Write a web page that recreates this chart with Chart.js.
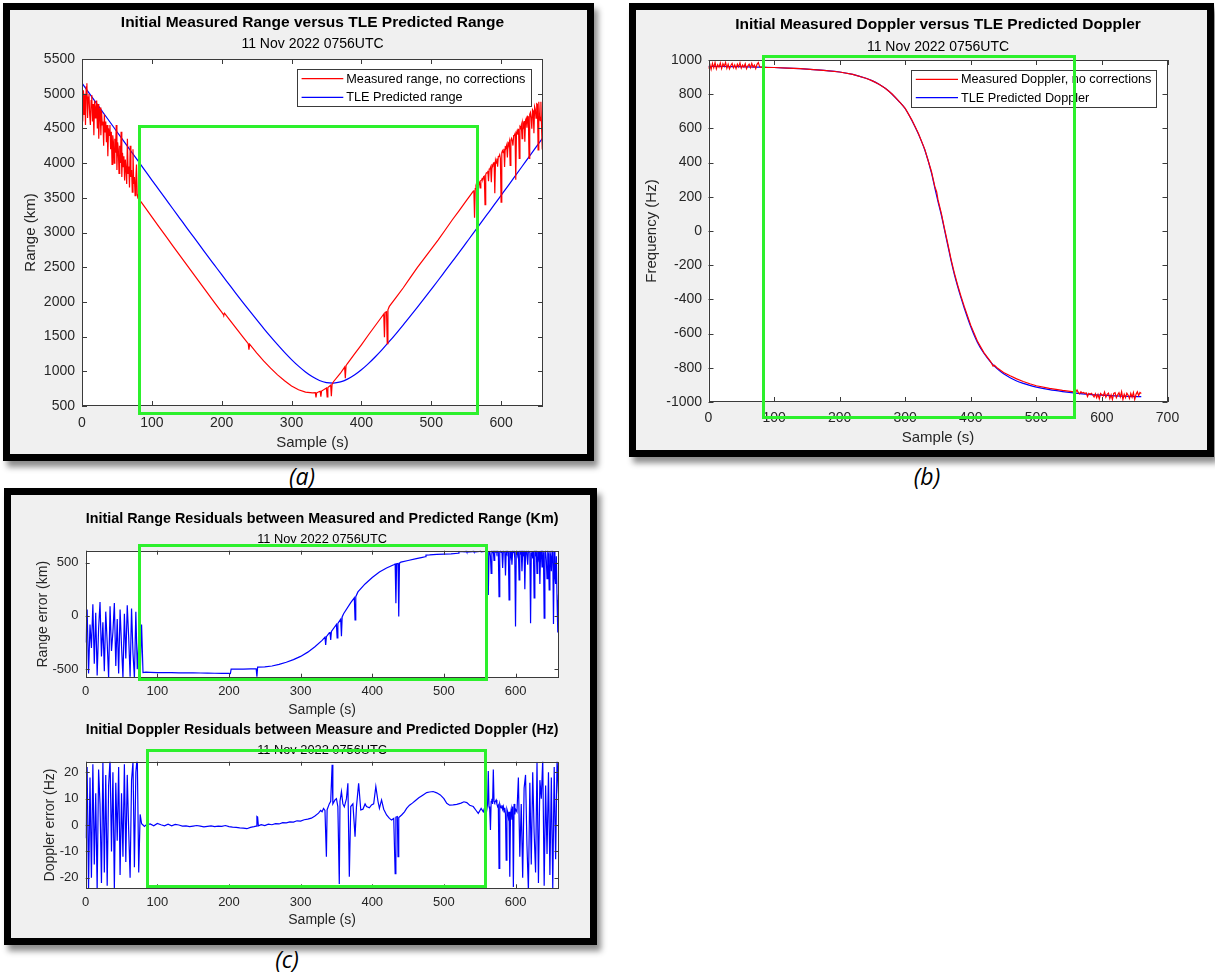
<!DOCTYPE html>
<html>
<head>
<meta charset="utf-8">
<script src="https://cdn.jsdelivr.net/npm/chart.js@4.4.1/dist/chart.umd.min.js"></script>
<style>
  html,body{margin:0;padding:0;background:#fff;}
  body{width:1215px;height:975px;position:relative;overflow:hidden;font-family:'Liberation Sans',Arial,sans-serif;}
  .panel{position:absolute;box-sizing:border-box;border:7px solid #000;background:#f0f0f0;box-shadow:4px 6px 6px rgba(0,0,0,0.45);}
  canvas{position:absolute;}
  .green{position:absolute;box-sizing:border-box;border:3px solid #2cf02c;z-index:10;pointer-events:none;}
  .lbl{position:absolute;font-family:'Open Sans','Liberation Sans',sans-serif;font-style:italic;font-size:23px;color:#000;transform:translate(-50%,-50%);white-space:nowrap;}
</style>
</head>
<body>
<div class="panel" style="left:3px;top:3px;width:591px;height:458px"></div>
<div class="panel" style="left:629px;top:3px;width:585px;height:454px"></div>
<div class="panel" style="left:4px;top:488px;width:593px;height:457px"></div>

<canvas id="cA" width="577" height="445" style="left:10px;top:10px"></canvas>
<canvas id="cB" width="571" height="441" style="left:636px;top:10px"></canvas>
<canvas id="cC1" width="579" height="235" style="left:11px;top:495px"></canvas>
<canvas id="cC2" width="579" height="220" style="left:11px;top:718px"></canvas>

<div class="green" style="left:138px;top:125px;width:341px;height:290px"></div>
<div class="green" style="left:762px;top:55px;width:314px;height:364px"></div>
<div class="green" style="left:138px;top:544px;width:350px;height:137px"></div>
<div class="green" style="left:146px;top:749px;width:341px;height:139px"></div>

<div class="lbl" style="left:302px;top:476px">(a)</div>
<div class="lbl" style="left:927px;top:476px">(b)</div>
<div class="lbl" style="left:287px;top:959px">(c)</div>

<script>
// ---------------- DATA ----------------
// (a) Range: TLE predicted (every 10 s, 0..660)
const predRangeT = [0,10,20,30,40,50,60,70,80,90,100,110,120,130,140,150,160,170,180,190,200,210,220,230,240,250,260,270,280,290,300,310,320,330,340,350,360,370,380,390,400,410,420,430,440,450,460,470,480,490,500,510,520,530,540,550,560,570,580,590,600,610,620,630,640,650,660];
const predRange = [5151,5011,4871,4732,4592,4452,4313,4174,4035,3896,
 3756,3618,3480,3342,3205,3068,2932,2796,2660,2526,
 2392,2260,2128,1998,1870,1744,1620,1500,1384,1273,
 1169,1074,990,920,868,838,831,847,887,946,
 1022,1111,1210,1317,1430,1548,1669,1794,1921,2050,
 2181,2312,2446,2580,2714,2850,2986,3123,3260,3397,
 3535,3673,3812,3951,4090,4229,4368];
// (a) Measured range: samples 0..82 s (1 s apart)
const measRangeEarly = [4900,4600,5050,4700,5000,4550,5100,5150,4650,4950,
 5000,4700,4550,4900,4980,4600,4850,4400,4900,4650,
 4800,4900,4500,4850,4350,4700,4800,4400,4750,4550,
 4600,4250,4700,4450,4600,4300,4550,4100,4500,4400,
 4550,4200,4450,3980,4400,4300,4000,4350,4150,4550,
 3900,4300,4200,3850,4250,4000,4450,3800,4150,3950,
 4100,3750,4050,3900,3700,4350,3850,3950,3650,4250,
 3800,3900,3580,4200,3700,3800,3530,3750,3980,3550,
 3495,3496,3475];
// (a) Measured range: middle of pass
const measRangeMidT = [84,90,100,110,120,130,140,150,160,170,180,190,200,202,203,204,210,220,230,238,239,240,250,260,270,280,290,300,310,320,330,334,335,336,340,341,342,343,350,351,352,356,357,358,360,370,376,377,378,380,390,400,410,420,430,432,433,434,436,437,438,440,450,460,470,480,490,500,510,520,530,540,550,560];
const measRangeMid = [3449,3366,3224,3086,2947,2808,2670,2533,2396,2259,2122,1987,1852,1825,1812,1838,1760,1629,1500,1398,1313,1390,1266,1150,1045,949,863,789,734,700,690,694,622,690,708,712,635,716,758,630,766,800,640,812,850,972,1060,900,1080,1112,1246,1382,1523,1660,1797,1825,1490,1850,1860,1400,1885,1935,2068,2204,2349,2493,2628,2761,2894,3036,3180,3316,3455,3594];
// (a) Measured range: samples 561..660 s
const measRangeLate = [3608,3211,3632,3651,3615,3469,3695,3694,3720,3644,
 3750,3752,3777,3769,3805,3812,3402,3834,3860,3857,
 3888,3740,3915,3917,3943,3725,3971,3962,3998,4005,
 3564,4040,4001,4067,3949,4095,4097,4122,4064,3438,
 4152,4178,4149,4205,3945,4233,4225,4260,4082,4288,
 4270,4316,3967,4331,4357,4319,4253,4398,4400,4426,
 3759,4432,4467,4409,4495,4067,4523,4504,4550,4352,
 4578,4530,4605,4307,4621,4647,4509,4674,4666,4068,
 4704,4730,4651,4495,4771,4753,4431,4812,4774,4648,
 4854,4846,4192,4883,4677,4611,4885,4488,4197,4566];

// (b) Doppler
const predDopT = [0,20,40,60,80,100,120,140,160,180,200,220,240,250,260,270,280,290,300,310,320,330,340,345,350,355,360,365,370,375,380,385,390,400,410,420,430,440,450,460,470,480,490,500,520,540,560,580,600,620,640,660];
const predDop = [962,962,961,960,958,956,953,949,944,938,930,916,893,878,858,833,800,760,715,648,568,472,340,255,172,95,5,-85,-175,-255,-325,-390,-450,-560,-650,-715,-765,-805,-835,-858,-877,-891,-903,-913,-928,-939,-948,-955,-960,-964,-967,-969];
const measDopEarly = [950,975,945,980,955,985,948,972,958,982,950,978,962,985,952,975,948,968,980,955,972,950,976,960,983,952,970,958,978,949,966,975,955,980,958,970,950,975,985,960,958]; // 0..80 s, every 2 s
const measDopMidT = [82,90,100,120,140,160,180,200,220,240,250,260,270,280,290,300,310,320,330,340,345,346,348,350,355,360,365,370,375,380,385,390,400,410,420,430,434,436,440,450,460,470,480,490,500,520,540,560];
const measDopMid = [958,956,956,953,949,944,938,930,916,893,878,858,833,801,761,717,650,571,476,348,262,250,228,182,104,12,-76,-167,-246,-316,-381,-441,-552,-643,-711,-762,-790,-785,-800,-827,-847,-865,-880,-893,-905,-920,-932,-942];
const measDopLate = [-930,-945,-952,-940,-948,-944,-950,-946,-968,-950,-955,-949,-958,-970,-952,-975,-955,-982,-950,-958,-965,-942,-972,-955,-948,-980,-958,-985,-950,-945,-975,-958,-946,-970,-940,-985,-955,-975,-948,-960,-980,-950,-972,-945,-985,-955,-940,-962,-944,-950]; // 562..660 s, every 2 s

// (c) Range residuals (km)
const rangeErrEarly = [-250,60,-540,-80,-300,110,-450,30,-560,-120,
 130,-380,-60,-520,40,-250,-580,90,-330,-150,
 120,-470,-30,-540,60,-280,-580,20,-400,100,
 -200,-570,70,-350,-580,40,-500,-230,-570,-80,
 -532,-530]; // 0..82 s, every 2 s
const rangeErrMidT = [84,90,100,110,120,130,140,150,160,170,180,190,200,202,203,210,220,230,238,239,240,250,260,270,280,290,300,310,320,330,334,335,336,340,341,342,343,350,351,352,356,357,358,360,370,375,376,377,380,390,400,410,420,430,432,433,434,436,437,438,440,450,460,470,474,475,480,490,500,510,520,521,530,531,532,540,541,542,550,551,552,560];
const rangeErrMid = [-528,-530,-532,-532,-533,-534,-535,-535,-536,-537,-538,-539,-540,-541,-500,-500,-499,-498,-497,-570,-480,-478,-470,-455,-435,-410,-380,-340,-290,-230,-200,-272,-195,-160,-152,-225,-145,-80,-206,-70,-30,-190,-10,20,125,170,-37,180,225,300,360,412,450,480,487,119,490,492,-6,495,505,520,535,550,555,570,572,578,580,582,588,605,600,612,598,602,612,600,605,612,602,608];
const rangeErrLate = [608,197,605,610,560,400,612,598,610,520,
 612,600,612,590,612,605,181,600,612,595,
 612,450,612,600,612,380,612,590,612,605,
 150,612,560,612,480,612,600,612,540,-100,
 600,612,570,612,338,612,590,612,420,612,
 580,612,250,600,612,560,480,612,600,612,
 -69,590,612,540,612,170,612,580,612,400,
 612,550,612,300,600,612,460,612,590,-22,
 600,612,520,350,612,580,244,612,560,420,
 612,590,-77,600,380,300,560,150,-155,200]; // 561..660 s

// (c) Doppler residuals (Hz)
const dopErrEarly = [-5,22,-24,18,-20,23,-15,12,-25,21,
 8,-22,24,-18,19,-23,15,25,-10,20,
 -24,16,-6,22,-19,12,-12,23,-14,19,
 -2,-20,17,24,-16,20,26,-18,4,0.5,
 0,-0.5,0]; // 0..84 s, every 2 s
const dopErrMidT = [85,90,95,100,105,110,115,120,125,130,135,140,145,150,155,160,165,170,175,180,185,190,195,200,205,210,215,220,225,230,235,238,239,240,241,245,250,255,260,265,270,275,280,285,290,295,300,305,310,315,320,325,328,330,332,334,336,337,340,342,344,345,348,350,352,354,355,357,359,361,364,366,368,370,373,376,378,381,384,387,390,392,396,399,402,405,408,410,413,416,420,424,427,430,432,433,435,436,437,441,445,448,452,456,460,465,471,476,480,485,490,495,500,504,508,513,518,524,528,532,536,541,545,548,552,555,558,560];
const dopErrMid = [0,0.4,-0.3,0.6,0.1,-0.3,0.3,-0.3,0.2,0,-0.4,-0.3,-0.6,-0.4,-0.2,-0.4,-0.7,-0.5,-0.3,-0.6,-0.4,-0.5,-0.2,-0.6,-0.8,-0.9,-1.1,-1.2,-1.4,-0.9,-0.6,-0.4,3.2,3.0,-0.3,0.1,-0.2,0.3,0.1,0.5,0.4,0.9,0.8,1.2,1.1,1.6,1.5,2.0,2.2,2.6,3.4,4.5,5.5,5.0,6.3,5.5,-12,5.8,8,9,22.8,8,9.5,10,7,-22.4,9,12.7,8,6.9,10,15.8,-19.6,7,8,-4.4,7,15.8,5.7,6,8,7,6.5,7.6,8,14.6,9,6.3,9.5,6,3.8,2.5,1.9,2.5,-18.4,3,3.2,-12,2.8,3.8,5,6.3,7.5,8.3,9.2,10.3,11.4,12.3,12.5,12.7,12.2,11.4,10,8.2,7.5,7.6,7.8,8.3,8.8,8.5,7.5,7,5.5,4.4,6.3,5,7.6,6];
const dopErrLateA = [8,20.5,7,6,-1.9,9,10,8,21,9,
 8.5,9,9.5,8,7,7.5,-16.5,8,7,6.5,
 7.5,6,7,5,6.5,4,-13.3,6,5,3,
 5,-19.6,4,6,2,7,-23.5,8,4,6]; // 561..600 s
const dopErrLateB = [5,18,-12,8,-20,14,19,-8,-25,16,
 -15,20,-3,-18,24,-22,17,10,25,-23,
 15,-11,20,-19,18,-24,22,-13,25,12]; // 602..660 s, every 2 s

// Tick labels
const xTicksA = [0,100,200,300,400,500,600];
const yTicksA = [500,1000,1500,2000,2500,3000,3500,4000,4500,5000,5500];
const xTicksB = [0,100,200,300,400,500,600,700];
const yTicksB = [-1000,-800,-600,-400,-200,0,200,400,600,800,1000];
const xTicksC = [0,100,200,300,400,500,600];
const yTicksC1 = [-500,0,500];
const yTicksC2 = [-20,-10,0,10,20];

// ---------------- HELPERS ----------------
const FONT = "'Liberation Sans', Arial, Helvetica, sans-serif";
const TXT = '#262626';
const pairs = (t, v) => t.map((x, i) => ({x: x, y: v[i]}));
const series = (start, step, v) => v.map((y, i) => ({x: start + i * step, y: y}));

const boxFrame = {
  id: 'boxFrame',
  beforeDatasetsDraw(chart) {
    const {ctx, chartArea: a} = chart;
    ctx.save();
    ctx.fillStyle = '#ffffff';
    ctx.fillRect(a.left, a.top, a.right - a.left, a.bottom - a.top);
    ctx.restore();
  },
  afterDatasetsDraw(chart, args, o) {
    const {ctx, chartArea: a, scales} = chart;
    const L = o.len || 5;
    ctx.save();
    ctx.strokeStyle = '#3a3a3a';
    ctx.lineWidth = 1;
    ctx.beginPath();
    scales.x.ticks.forEach(t => {
      const p = Math.round(scales.x.getPixelForValue(t.value)) + 0.5;
      ctx.moveTo(p, a.bottom); ctx.lineTo(p, a.bottom - L);
      ctx.moveTo(p, a.top); ctx.lineTo(p, a.top + L);
    });
    scales.y.ticks.forEach(t => {
      const p = Math.round(scales.y.getPixelForValue(t.value)) + 0.5;
      ctx.moveTo(a.left, p); ctx.lineTo(a.left + L, p);
      ctx.moveTo(a.right, p); ctx.lineTo(a.right - L, p);
    });
    ctx.stroke();
    ctx.strokeRect(Math.round(a.left) + 0.5, Math.round(a.top) + 0.5, Math.round(a.right - a.left) - 1, Math.round(a.bottom - a.top) - 1);
    ctx.restore();
  }
};

const innerLegend = {
  id: 'innerLegend',
  afterDraw(chart, args, o) {
    if (!o || !o.w) return;
    const ctx = chart.ctx;
    ctx.save();
    ctx.fillStyle = '#ffffff';
    ctx.fillRect(o.x, o.y, o.w, o.h);
    ctx.strokeStyle = '#3a3a3a';
    ctx.lineWidth = 1;
    ctx.strokeRect(o.x + 0.5, o.y + 0.5, o.w, o.h);
    ctx.font = o.size + 'px ' + FONT;
    ctx.textBaseline = 'middle';
    chart.data.datasets.forEach((d, i) => {
      const yy = o.rows[i];
      ctx.strokeStyle = d.borderColor;
      ctx.lineWidth = 1.2;
      ctx.beginPath(); ctx.moveTo(o.x1, yy); ctx.lineTo(o.x2, yy); ctx.stroke();
      ctx.fillStyle = '#000';
      ctx.fillText(d.label, o.tx, yy + 0.5);
    });
    ctx.restore();
  }
};

function makeChart(id, c) {
  return new Chart(document.getElementById(id), {
    type: 'line',
    data: {
      datasets: c.datasets.map(d => ({
        label: d.label, data: d.data, borderColor: d.color, backgroundColor: d.color,
        borderWidth: 1.2, pointRadius: 0, fill: false, clip: 0,
        tension: 0, cubicInterpolationMode: d.smooth ? 'monotone' : 'default'
      }))
    },
    options: {
      responsive: false, animation: false, events: [],
      layout: {padding: {left: 0, right: c.padRight, top: 0, bottom: 0}},
      plugins: {
        legend: {display: false}, tooltip: {enabled: false},
        title: {display: true, text: c.title, fullSize: false, color: '#000',
          font: {family: FONT, size: c.titleSize, weight: 'bold', lineHeight: 1.2},
          padding: {top: c.tp, bottom: 0}},
        subtitle: {display: true, text: '11 Nov 2022 0756UTC', fullSize: false, color: '#000',
          font: {family: FONT, size: c.subSize, lineHeight: 1.2},
          padding: {top: c.sp, bottom: c.spb}},
        boxFrame: {len: c.tickLen},
        innerLegend: c.legend || {}
      },
      scales: {
        x: {
          type: 'linear', min: c.xMin, max: c.xMax,
          afterFit(s) { s.height = c.xH; },
          afterBuildTicks(s) { s.ticks = c.xTicks.map(v => ({value: v})); },
          grid: {display: false, drawTicks: false}, border: {display: false},
          ticks: {color: TXT, font: {family: FONT, size: c.tickSize, lineHeight: 1.2}, padding: c.xtp, maxRotation: 0, autoSkip: false,
                  callback: v => String(v)},
          title: {display: true, text: 'Sample (s)', color: TXT, font: {family: FONT, size: c.labSize, lineHeight: 1.2}, padding: {top: 0, bottom: c.xlp}}
        },
        y: {
          type: 'linear', min: c.yMin, max: c.yMax,
          afterFit(s) { s.width = c.yW; },
          afterBuildTicks(s) { s.ticks = c.yTicks.map(v => ({value: v})); },
          grid: {display: false, drawTicks: false}, border: {display: false},
          ticks: {color: TXT, font: {family: FONT, size: c.tickSize, lineHeight: 1.2}, padding: c.ytp, autoSkip: false,
                  callback: v => String(v)},
          title: {display: true, text: c.yLabel, color: TXT, font: {family: FONT, size: c.labSize, lineHeight: 1.2}, padding: {top: c.ylp, bottom: 0}}
        }
      }
    },
    plugins: [boxFrame, innerLegend]
  });
}

// ---------------- CHARTS ----------------
makeChart('cA', {
  datasets: [
    {label: 'Measured range, no corrections', color: '#ff0000',
     data: series(0, 1, measRangeEarly).concat(pairs(measRangeMidT, measRangeMid), series(561, 1, measRangeLate))},
    {label: 'TLE Predicted range', color: '#0000ff', smooth: true, data: pairs(predRangeT, predRange)}
  ],
  title: 'Initial Measured Range versus TLE Predicted Range', titleSize: 15.5, subSize: 14,
  tp: 3.7, sp: 3.3, spb: 6.6, padRight: 44, yW: 72, xH: 49,
  xMin: 0, xMax: 660, yMin: 500, yMax: 5500, xTicks: xTicksA, yTicks: yTicksA,
  tickSize: 14, labSize: 15, xtp: 8.3, ytp: 7, xlp: 3, ylp: 11.6, yLabel: 'Range (km)', tickLen: 5,
  legend: {x: 287, y: 59, w: 234, h: 37, x1: 291.6, x2: 333.3, rows: [68.7, 87.3], tx: 336.3, size: 12.7}
});

makeChart('cB', {
  datasets: [
    {label: 'Measured Doppler, no corrections', color: '#ff0000',
     data: series(0, 2, measDopEarly).concat(pairs(measDopMidT, measDopMid), series(562, 2, measDopLate))},
    {label: 'TLE Predicted Doppler', color: '#0000ff', smooth: true, data: pairs(predDopT, predDop)}
  ],
  title: 'Initial Measured Doppler versus TLE Predicted Doppler', titleSize: 15.5, subSize: 14,
  tp: 5.7, sp: 4, spb: 4.9, padRight: 39.5, yW: 72.5, xH: 49,
  xMin: 0, xMax: 700, yMin: -1000, yMax: 1000, xTicks: xTicksB, yTicks: yTicksB,
  tickSize: 14, labSize: 15, xtp: 7.3, ytp: 6.4, xlp: 4, ylp: 7, yLabel: 'Frequency (Hz)', tickLen: 5,
  legend: {x: 275, y: 60, w: 245, h: 37, x1: 279.8, x2: 322, rows: [69.3, 87.7], tx: 325, size: 12.7}
});

makeChart('cC1', {
  datasets: [
    {label: 'Range residual', color: '#0000ff',
     data: series(0, 2, rangeErrEarly).concat(pairs(rangeErrMidT, rangeErrMid), series(561, 1, rangeErrLate))}
  ],
  title: 'Initial Range Residuals between Measured and Predicted Range (Km)', titleSize: 14.4, subSize: 12.8,
  tp: 15.36, sp: 3.67, spb: 4.03, padRight: 31.5, yW: 74.7, xH: 52.3,
  xMin: 0, xMax: 660, yMin: -580, yMax: 612, xTicks: xTicksC, yTicks: yTicksC1,
  tickSize: 13, labSize: 14, xtp: 6.2, ytp: 7.2, xlp: 11.6, ylp: 23.5, yLabel: 'Range error (km)', tickLen: 4
});

makeChart('cC2', {
  datasets: [
    {label: 'Doppler residual', color: '#0000ff',
     data: series(0, 2, dopErrEarly).concat(pairs(dopErrMidT, dopErrMid), series(561, 1, dopErrLateA), series(602, 2, dopErrLateB))}
  ],
  title: 'Initial Doppler Residuals between Measure and Predicted Doppler (Hz)', titleSize: 14.4, subSize: 12.8,
  tp: 3.36, sp: 4.38, spb: 3.32, padRight: 31.5, yW: 74.7, xH: 49.7,
  xMin: 0, xMax: 660, yMin: -24, yMax: 24, xTicks: xTicksC, yTicks: yTicksC2,
  tickSize: 13, labSize: 14, xtp: 6.6, ytp: 7.2, xlp: 9.6, ylp: 31.1, yLabel: 'Doppler error (Hz)', tickLen: 4
});
</script>
</body>
</html>
